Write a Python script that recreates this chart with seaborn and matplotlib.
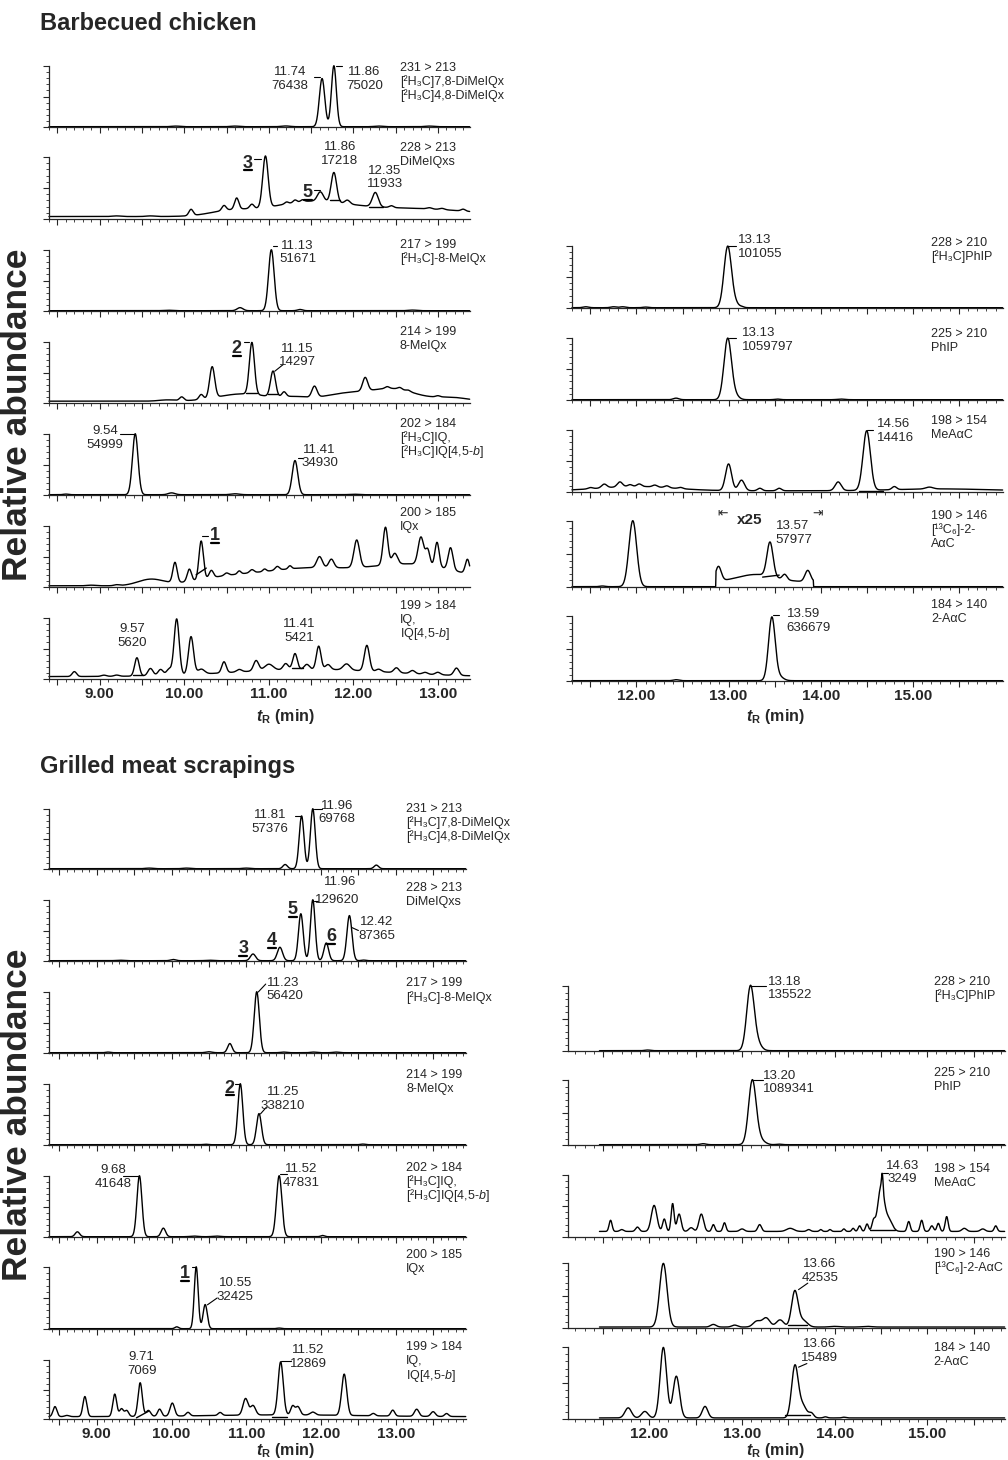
import numpy as np
import pandas as pd
import seaborn as sns
import matplotlib.pyplot as plt
from matplotlib.lines import Line2D

sns.set_style('ticks')
plt.rcParams['font.family'] = ['Liberation Sans', 'DejaVu Sans']
plt.rcParams['mathtext.fontset'] = 'custom'
plt.rcParams['mathtext.rm'] = 'Liberation Sans'
plt.rcParams['mathtext.it'] = 'Liberation Sans:italic'
plt.rcParams['mathtext.bf'] = 'Liberation Sans:bold'
plt.rcParams['mathtext.bfit'] = 'Liberation Sans:bold:italic'

# peaks: (retention time, height in % of panel, width)
# wide entries are the slow background under the noisy traces

# ---------------- Barbecued chicken, left column ----------------
bbq_231 = [(11.63, 79, 0.032), (11.77, 100, 0.029), (9.9, 1, 0.05), (10.6, 1, 0.05),
           (11.2, 1.2, 0.05), (12.3, 1, 0.05), (12.9, 1, 0.05)]
bbq_228 = [(11.45, 20, 0.45), (12.6, 13, 0.8), (10.55, 8, 0.25),
           (10.08, 10, 0.025), (10.47, 8, 0.025), (10.62, 18, 0.025), (10.80, 7, 0.025),
           (10.96, 83, 0.032), (11.21, 3, 0.022), (11.31, 4, 0.022), (11.40, 3, 0.022),
           (11.61, 15, 0.035), (11.77, 48, 0.032), (11.93, 6, 0.03), (12.26, 23, 0.035),
           (12.45, 3, 0.025), (12.9, 2, 0.03), (13.05, 2, 0.03), (13.3, 3, 0.025),
           (9.2, 1, 0.05), (9.6, 1, 0.05)]
bbq_217 = [(11.03, 100, 0.033), (10.66, 5, 0.035), (11.37, 2, 0.03), (12.7, 1, 0.05),
           (9.8, 0.8, 0.05)]
bbq_214 = [(10.7, 12, 0.3), (11.95, 13, 0.3), (12.5, 18, 0.25), (11.3, 5, 0.15),
           (13.15, 6, 0.2), (9.8, 2, 0.1),
           (9.97, 6, 0.025), (10.20, 8, 0.025), (10.33, 51, 0.03), (10.80, 85, 0.03),
           (11.05, 42, 0.03), (11.18, 8, 0.025), (11.54, 18, 0.03), (12.14, 22, 0.03),
           (12.40, 3, 0.025), (12.55, 3, 0.025), (12.65, 2, 0.025), (13.0, 2, 0.025)]
bbq_202 = [(9.42, 100, 0.033), (9.85, 3, 0.04), (10.6, 1.5, 0.05), (11.31, 56, 0.033),
           (8.6, 1, 0.03), (12.0, 0.8, 0.05)]
bbq_200 = [(9.6, 10, 0.15), (10.5, 12, 0.4), (11.4, 25, 0.5), (12.7, 35, 0.6),
           (8.9, 1, 0.05), (9.2, 1.5, 0.03), (9.89, 33, 0.025), (10.06, 20, 0.025),
           (10.20, 63, 0.026), (10.32, 12, 0.025), (10.5, 4, 0.025), (10.65, 5, 0.02),
           (10.8, 5, 0.025), (10.95, 4, 0.02), (11.1, 6, 0.025), (11.25, 5, 0.02),
           (11.6, 18, 0.033), (11.74, 14, 0.03), (12.04, 45, 0.033), (12.38, 62, 0.028),
           (12.49, 18, 0.033), (12.80, 45, 0.033), (12.88, 25, 0.025), (12.99, 40, 0.025),
           (13.15, 36, 0.028), (13.35, 24, 0.025)]
bbq_199 = [(11.5, 12, 0.9),
           (8.70, 8, 0.026), (9.05, 2, 0.03), (9.2, 2, 0.03), (9.44, 30, 0.027),
           (9.6, 12, 0.03), (9.72, 10, 0.03), (9.82, 10, 0.03), (9.91, 92, 0.03),
           (10.08, 62, 0.03), (10.2, 8, 0.04), (10.47, 18, 0.026), (10.65, 4, 0.03),
           (10.85, 17, 0.03), (11.0, 10, 0.05), (11.2, 10, 0.03), (11.31, 26, 0.027),
           (11.45, 8, 0.03), (11.59, 38, 0.027), (11.7, 8, 0.03), (11.92, 10, 0.04),
           (12.16, 42, 0.03), (12.3, 4, 0.03), (12.51, 8, 0.03), (12.7, 5, 0.03),
           (12.85, 3, 0.03), (13.0, 4, 0.03), (13.22, 12, 0.03)]

# ---------------- Barbecued chicken, right column ----------------
bbq_228r = [(12.99, 97, 0.04), (13.06, 8, 0.045), (11.45, 1.5, 0.03), (11.75, 1.5, 0.03),
            (11.85, 1.5, 0.03), (12.1, 1, 0.03), (13.15, 1, 0.02)]
bbq_225r = [(12.99, 97, 0.04), (13.06, 8, 0.045), (12.43, 2.5, 0.03), (13.53, 1, 0.03),
            (14.22, 1, 0.04)]
bbq_198r = [(12.0, 7, 0.4), (15.3, 3, 0.5),
            (11.5, 2, 0.025), (11.65, 6, 0.028), (11.82, 8, 0.028), (11.93, 3, 0.025),
            (12.03, 4, 0.025), (12.2, 3, 0.025), (12.33, 3, 0.025), (12.48, 2, 0.025),
            (13.0, 43, 0.033), (13.14, 17, 0.033), (13.34, 4, 0.025), (13.55, 4, 0.025),
            (14.19, 14, 0.033), (14.50, 96, 0.04), (14.80, 5, 0.025), (15.18, 3, 0.04)]
bbq_190r = [(11.96, 100, 0.042), (11.63, 1, 0.03)]
bbq_190r_x25 = [(13.3, 11, 0.2), (12.89, 22, 0.03), (13.45, 52, 0.033),
                (13.61, 8, 0.025), (13.86, 17, 0.03)]
bbq_190r_window = [12.86, 13.92]
bbq_184r = [(13.47, 97, 0.036), (13.55, 6, 0.045), (12.43, 1.5, 0.03)]

# ---------------- Grilled meat scrapings, left column ----------------
grill_231 = [(11.74, 88, 0.032), (11.89, 100, 0.032), (11.52, 7, 0.03), (12.74, 6, 0.03),
             (9.7, 1, 0.05), (10.2, 1, 0.05), (11.0, 1, 0.05)]
grill_228 = [(10.02, 2, 0.035), (11.09, 11, 0.035), (11.45, 22, 0.035), (11.73, 77, 0.032),
             (11.89, 100, 0.031), (12.07, 29, 0.032), (12.38, 74, 0.034), (12.57, 1, 0.03),
             (9.3, 0.8, 0.05), (10.5, 0.8, 0.05)]
grill_217 = [(11.14, 100, 0.034), (10.78, 15, 0.03), (9.15, 1, 0.03), (10.5, 1.5, 0.04),
             (11.5, 1, 0.04), (11.9, 1, 0.04), (12.2, 1, 0.04)]
grill_214 = [(10.92, 100, 0.033), (11.17, 51, 0.033), (12.56, 1, 0.03), (10.45, 0.8, 0.03)]
grill_202 = [(8.74, 8, 0.03), (9.57, 100, 0.033), (9.89, 14, 0.03), (11.44, 100, 0.036),
             (12.02, 2, 0.025), (10.3, 1, 0.05), (10.6, 1, 0.05)]
grill_200 = [(10.33, 100, 0.026), (10.45, 39, 0.028), (10.07, 3, 0.025), (11.44, 1, 0.03)]
grill_199 = [(11.5, 3, 1.0),
             (8.44, 17, 0.026), (8.6, 2, 0.03), (8.84, 34, 0.026), (9.24, 38, 0.026),
             (9.33, 13, 0.026), (9.40, 10, 0.026), (9.58, 57, 0.028), (9.69, 10, 0.03),
             (9.84, 12, 0.026), (10.01, 22, 0.03), (10.22, 6, 0.026), (10.65, 5, 0.026),
             (10.99, 28, 0.034), (11.09, 16, 0.034), (11.46, 90, 0.034), (11.62, 15, 0.026),
             (11.69, 14, 0.03), (11.89, 5, 0.034), (12.31, 70, 0.034), (12.70, 4, 0.026),
             (12.96, 10, 0.026), (13.28, 12, 0.03), (13.5, 8, 0.03), (13.68, 5, 0.026)]

# ---------------- Grilled meat scrapings, right column ----------------
grill_228r = [(13.09, 97, 0.04), (13.16, 12, 0.045), (11.98, 1, 0.03)]
grill_225r = [(13.11, 97, 0.04), (13.18, 10, 0.045), (12.58, 1.5, 0.03), (13.26, 1, 0.03),
              (13.40, 0.8, 0.03)]
grill_198r = [(11.58, 18, 0.016), (11.70, 3, 0.02), (11.87, 7, 0.02), (12.05, 42, 0.03),
              (12.16, 20, 0.018), (12.25, 45, 0.016), (12.32, 28, 0.022), (12.45, 6, 0.025),
              (12.56, 28, 0.025), (12.69, 11, 0.016), (12.81, 14, 0.016), (13.0, 4, 0.025),
              (13.19, 11, 0.02), (13.52, 5, 0.04), (13.72, 3, 0.02), (13.85, 3, 0.014),
              (13.95, 3, 0.014), (14.1, 4, 0.014), (14.2, 5, 0.014), (14.27, 9, 0.016),
              (14.35, 12, 0.016), (14.42, 16, 0.018), (14.50, 70, 0.034), (14.515, 25, 0.008),
              (14.58, 20, 0.04), (14.80, 16, 0.016), (14.94, 18, 0.016), (15.05, 9, 0.018),
              (15.12, 13, 0.016), (15.21, 24, 0.016), (15.4, 5, 0.025), (15.6, 4, 0.025),
              (15.74, 9, 0.016)]
grill_190r = [(12.15, 98, 0.04), (12.69, 4, 0.03), (12.92, 3, 0.03), (13.16, 9, 0.04),
              (13.26, 14, 0.04), (13.41, 11, 0.04), (13.57, 55, 0.035), (13.66, 10, 0.045),
              (14.0, 1, 0.05), (14.35, 1, 0.05)]
grill_184r = [(11.77, 14, 0.035), (11.95, 9, 0.035), (12.15, 98, 0.035), (12.29, 58, 0.035),
              (12.60, 16, 0.03), (13.57, 70, 0.035), (13.65, 18, 0.045), (13.75, 6, 0.025),
              (13.9, 1.5, 0.02), (14.1, 1, 0.02)]

# transition / compound names, one entry per text line
H3C = '[²H₃C]'
C6 = '[¹³C₆]'
names_dimeiqx = ['231 > 213', H3C + '7,8-DiMeIQx', H3C + '4,8-DiMeIQx']
names_dimeiqxs = ['228 > 213', 'DiMeIQxs']
names_d3meiqx = ['217 > 199', H3C + '-8-MeIQx']
names_meiqx = ['214 > 199', '8-MeIQx']
names_d3iq = ['202 > 184', H3C + 'IQ,', H3C + 'IQ[4,5-$b$]']
names_iqx = ['200 > 185', 'IQx']
names_iq = ['199 > 184', 'IQ,', 'IQ[4,5-$b$]']
names_d3phip = ['228 > 210', H3C + 'PhIP']
names_phip = ['225 > 210', 'PhIP']
names_meaac = ['198 > 154', 'MeAαC']
names_c13aac_top = ['190 > 146', C6 + '-2-', 'AαC']
names_c13aac = ['190 > 146', C6 + '-2-AαC']
names_aac = ['184 > 140', '2-AαC']

W, H = 1008, 1460
fig = plt.figure(figsize=(W / 100, H / 100), dpi=100)
underlined = []


def Chrom(t, base, peaks):
    y = np.full_like(t, float(base))
    for c, h, w in peaks:
        y += h * np.exp(-0.5 * ((t - c) / w) ** 2)
    return y


def Panel(px, xlim, span, base, peaks, names, names_x, names_y, labels=(), leaders=(),
          baselines=(), numbers=(), bottom=False, x25=None):
    x0, x1, ytop, ybase = px
    ax = fig.add_axes([x0 / W, 1 - ybase / H, (x1 - x0) / W, (ybase - ytop) / H])
    t = np.arange(span[0], span[1], 0.004)
    y = Chrom(t, base, peaks)
    if x25 is not None:
        lo, hi, zbase, zpeaks = x25
        inside = (t >= lo) & (t <= hi)
        y[inside] = Chrom(t[inside], zbase, zpeaks)
    df = pd.DataFrame({'t': t, 'abund': y})
    sns.lineplot(data=df, x='t', y='abund', ax=ax, color='black', lw=1.0,
                 estimator=None, sort=False)
    for ln in ax.lines:
        ln.set_clip_on(False)
    for a, b, c, d in baselines:
        ax.plot([a, c], [b, d], color='black', lw=1.0, clip_on=False)
    for a, b, c, d in leaders:
        ax.plot([a, c], [b, d], color='black', lw=0.8, clip_on=False)
    for x, yy, s, ha in labels:
        ax.text(x, yy, s, ha=ha, va='center', fontsize=9.5, linespacing=1.2)
    for x, yy, s in numbers:
        underlined.append(ax.text(x, yy, s, ha='center', va='center', fontsize=13,
                                  fontweight='bold'))
    # one text per line so every line keeps the same pitch
    for i, line in enumerate(names):
        ax.annotate(line, xy=(names_x, names_y), xycoords=ax.get_xaxis_transform(),
                    xytext=(0, -(7.0 + 10.2 * i)), textcoords='offset points',
                    ha='left', va='baseline', fontsize=9, annotation_clip=False)

    ax.set_xlim(*xlim)
    ax.set_ylim(0, 100)
    major = np.arange(np.ceil(xlim[0] * 2) / 2, xlim[1] + 1e-6, 0.5)
    minor = np.arange(np.ceil(xlim[0] * 10) / 10, xlim[1] + 1e-6, 0.1)
    ax.set_xticks(major, labels=['%.2f' % v if abs(v - round(v)) < 1e-6 else ''
                                 for v in major], fontweight='bold', fontsize=11)
    ax.set_xticks(minor, minor=True)
    ax.set_yticks([0, 50, 100])
    ax.set_yticks(np.arange(0, 101, 10), minor=True)
    ax.tick_params(which='major', direction='out', length=4, width=0.8, pad=2)
    ax.tick_params(which='minor', direction='out', length=2.2, width=0.6)
    ax.tick_params(axis='y', labelleft=False)
    ax.tick_params(axis='x', labelbottom=bottom)
    ax.set_xlabel('')
    ax.set_ylabel('')
    sns.despine(ax=ax)
    ax.spines['left'].set_bounds(0, 100)
    for s in ('left', 'bottom'):
        ax.spines[s].set_linewidth(0.9)
    ax.patch.set_alpha(0)
    return ax


TL = (8.40, 13.38)
TR = (11.30, 15.98)
BL = (8.36, 13.94)
BR = (11.12, 15.84)

# ---------------- top block ----------------
Panel((49, 470, 66, 127), TL, TL, 0.5, bbq_231, names_dimeiqx, 12.55, 1.08,
      labels=[(11.25, 79, '11.74\n76438', 'center'), (12.13, 79, '11.86\n75020', 'center')],
      leaders=[(11.54, 82, 11.61, 82), (11.79, 100, 11.86, 100)])
Panel((49, 470, 157, 219), TL, TL, 4, bbq_228, names_dimeiqxs, 12.55, 1.26,
      labels=[(11.84, 105, '11.86\n17218', 'center'), (12.37, 67, '12.35\n11933', 'center')],
      leaders=[(10.83, 97, 10.91, 97), (11.54, 47, 11.60, 47)],
      baselines=[(11.72, 31, 11.84, 31), (12.19, 19, 12.35, 19)],
      numbers=[(10.75, 90, '3'), (11.46, 42, '5')])
Panel((49, 470, 250, 311), TL, TL, 0.5, bbq_217, names_d3meiqx, 12.55, 1.20,
      labels=[(11.34, 96, '11.13\n51671', 'center')],
      leaders=[(11.05, 107, 11.10, 107)])
Panel((49, 470, 342, 403), TL, TL, 3, bbq_214, names_meiqx, 12.55, 1.28,
      labels=[(11.34, 78, '11.15\n14297', 'center')],
      leaders=[(10.71, 100, 10.77, 100), (11.07, 52, 11.17, 63)],
      baselines=[(10.73, 16, 10.86, 16), (10.99, 14, 11.11, 14)],
      numbers=[(10.62, 89, '2')])
Panel((49, 470, 434, 495), TL, TL, 0.5, bbq_202, names_d3iq, 12.55, 1.28,
      labels=[(9.06, 93, '9.54\n54999', 'center'), (11.60, 63, '11.41\n34930', 'center')],
      leaders=[(9.24, 100, 9.41, 100), (11.34, 61, 11.40, 61)])
Panel((49, 470, 526, 587), TL, TL, 2, bbq_200, names_iqx, 12.55, 1.32,
      leaders=[(10.21, 83, 10.28, 83)],
      baselines=[(10.14, 20, 10.26, 31)],
      numbers=[(10.36, 84, '1')])
Panel((49, 470, 618, 679), TL, TL, 4, bbq_199, names_iq, 12.55, 1.31,
      labels=[(9.38, 70, '9.57\n5620', 'center'), (11.36, 79, '11.41\n5421', 'center')],
      baselines=[(9.39, 7, 9.51, 7), (11.27, 18, 11.40, 18)], bottom=True)

Panel((572, 1003, 246, 308), TR, TR, 0.5, bbq_228r, names_d3phip, 15.20, 1.16,
      labels=[(13.10, 98, '13.13\n101055', 'left')],
      leaders=[(12.99, 100, 13.08, 100)])
Panel((572, 1003, 338, 400), TR, TR, 0.5, bbq_225r, names_phip, 15.20, 1.17,
      labels=[(13.15, 97, '13.13\n1059797', 'left')],
      leaders=[(13.01, 100, 13.08, 100)])
Panel((572, 1003, 430, 492), TR, TR, 2, bbq_198r, names_meaac, 15.20, 1.26,
      labels=[(14.61, 98, '14.56\n14416', 'left')],
      leaders=[(14.50, 100, 14.57, 100)],
      baselines=[(14.42, 2, 14.68, 2)])
ax = Panel((572, 1003, 521, 587), TR, TR, 0.5, bbq_190r, names_c13aac_top, 15.20, 1.18,
           labels=[(13.51, 82, '13.57\n57977', 'left')],
           baselines=[(13.37, 15, 13.55, 18)],
           x25=(bbq_190r_window[0], bbq_190r_window[1], 8, bbq_190r_x25))
ax.text(13.23, 101, 'x25', ha='center', va='center', fontsize=11, fontweight='bold')
ax.text(bbq_190r_window[0] + 0.08, 111, '⇤', ha='center', va='center', fontsize=9)
ax.text(bbq_190r_window[1] + 0.05, 111, '⇥', ha='center', va='center', fontsize=9)
Panel((572, 1003, 616, 681), TR, TR, 0.5, bbq_184r, names_aac, 15.20, 1.28,
      labels=[(13.63, 92, '13.59\n636679', 'left')],
      leaders=[(13.48, 101, 13.55, 101)], bottom=True)

# ---------------- bottom block ----------------
Panel((49, 466, 809, 869), BL, BL, 0.5, grill_231, names_dimeiqx, 13.14, 1.11,
      labels=[(11.32, 78, '11.81\n57376', 'center'), (12.21, 94, '11.96\n69768', 'center')],
      leaders=[(11.65, 88, 11.73, 88), (11.90, 100, 12.01, 100)])
Panel((49, 466, 900, 961), BL, BL, 0.5, grill_228, names_dimeiqxs, 13.14, 1.31,
      labels=[(12.25, 130, '11.96', 'center'), (12.21, 100, '129620', 'center'),
              (12.74, 52, '12.42\n87365', 'center')],
      leaders=[(11.90, 99, 11.96, 99), (12.41, 55, 12.50, 50)],
      numbers=[(10.96, 20, '3'), (11.34, 33, '4'), (11.62, 84, '5'), (12.14, 40, '6')])
Panel((49, 466, 992, 1053), BL, BL, 0.5, grill_217, names_d3meiqx, 13.14, 1.25,
      labels=[(11.27, 104, '11.23\n56420', 'left')],
      leaders=[(11.16, 100, 11.26, 113)])
Panel((49, 466, 1084, 1145), BL, BL, 0.5, grill_214, names_meiqx, 13.14, 1.26,
      labels=[(11.49, 76, '11.25\n338210', 'center')],
      leaders=[(10.85, 100, 10.91, 100), (11.19, 51, 11.27, 62)],
      numbers=[(10.78, 93, '2')])
Panel((49, 466, 1176, 1237), BL, BL, 0.5, grill_202, names_d3iq, 13.14, 1.24,
      labels=[(9.22, 98, '9.68\n41648', 'center'), (11.74, 100, '11.52\n47831', 'center')],
      leaders=[(9.35, 100, 9.55, 100), (11.45, 103, 11.54, 103)])
Panel((49, 466, 1267, 1329), BL, BL, 0.5, grill_200, names_iqx, 13.14, 1.31,
      labels=[(10.85, 63, '10.55\n32425', 'center')],
      leaders=[(10.27, 100, 10.32, 100), (10.48, 39, 10.61, 50)],
      numbers=[(10.18, 89, '1')])
Panel((49, 466, 1360, 1419), BL, BL, 4, grill_199, names_iq, 13.14, 1.33,
      labels=[(9.60, 93, '9.71\n7069', 'center'), (11.83, 105, '11.52\n12869', 'center')],
      leaders=[(11.47, 99, 11.60, 99)],
      baselines=[(9.53, 2, 9.69, 13), (11.34, 4, 11.54, 4)], bottom=True)

BRS = (11.46, 15.84)
Panel((568, 1005, 986, 1051), BR, BRS, 0.5, grill_228r, names_d3phip, 15.07, 1.16,
      labels=[(13.28, 96, '13.18\n135522', 'left')],
      leaders=[(13.10, 100, 13.26, 100)])
Panel((568, 1005, 1080, 1145), BR, BRS, 0.5, grill_225r, names_phip, 15.07, 1.21,
      labels=[(13.23, 96, '13.20\n1089341', 'left')],
      leaders=[(13.12, 100, 13.23, 100)])
Panel((568, 1005, 1175, 1237), BR, BRS, 9, grill_198r, names_meaac, 15.07, 1.21,
      labels=[(14.73, 104, '14.63\n3249', 'center')],
      leaders=[(14.52, 103, 14.58, 103)],
      baselines=[(14.38, 12, 14.65, 12)])
Panel((568, 1005, 1263, 1328), BR, BRS, 1.5, grill_190r, names_c13aac, 15.07, 1.24,
      labels=[(13.84, 88, '13.66\n42535', 'center')],
      leaders=[(13.61, 59, 13.71, 69)],
      baselines=[(13.50, 4, 13.70, 4)])
Panel((568, 1005, 1347, 1419), BR, BRS, 1.5, grill_184r, names_aac, 15.07, 1.08,
      labels=[(13.84, 94, '13.66\n15489', 'center')],
      leaders=[(13.61, 72, 13.70, 77)],
      baselines=[(13.46, 5, 13.73, 5)], bottom=True)

# titles and axis names
fig.text(40 / W, 1 - 24 / H, 'Barbecued chicken', ha='left', va='center', fontsize=17,
         fontweight='bold')
fig.text(40 / W, 1 - 767 / H, 'Grilled meat scrapings', ha='left', va='center',
         fontsize=17, fontweight='bold')
for yc in (415, 1115):
    fig.text(18 / W, 1 - yc / H, 'Relative abundance', rotation=90, ha='center',
             va='center', fontsize=25.5, fontweight='bold')
xlab = r'$\mathbfit{t}_{\mathbf{R}}$ (min)'
for xc, yc in ((285, 716), (775, 716), (285, 1451), (775, 1451)):
    fig.text(xc / W, 1 - yc / H, xlab, ha='center', va='center', fontsize=11.5,
             fontweight='bold')

# underline the compound numbers
fig.canvas.draw()
inv = fig.transFigure.inverted()
for txt in underlined:
    bb = txt.get_window_extent()
    (ax0, ay), (ax1, _) = inv.transform([(bb.x0 + 1, bb.y0 + 1.5), (bb.x1 - 1, bb.y0 + 1.5)])
    fig.add_artist(Line2D([ax0, ax1], [ay, ay], color='black', lw=1.6))

fig.savefig('out.png', dpi=100)
